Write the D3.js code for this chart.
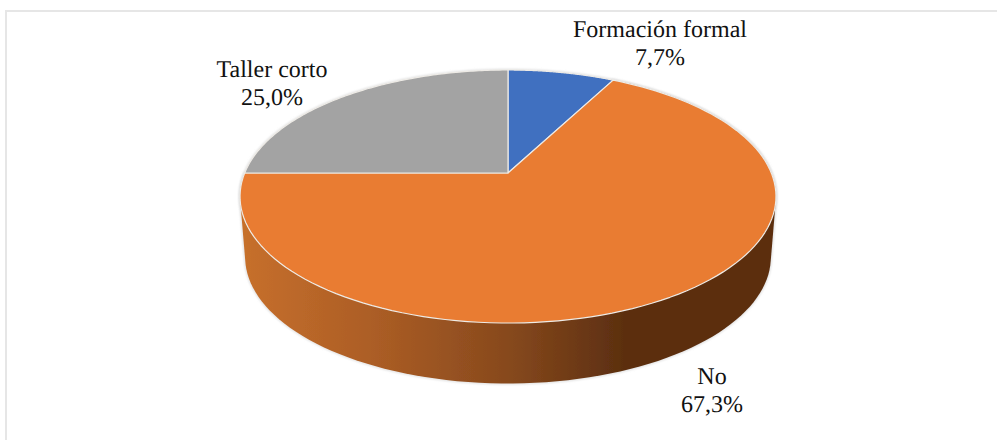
<!DOCTYPE html>
<html lang="es"><head><meta charset="utf-8">
<script src="https://cdn.jsdelivr.net/npm/d3@7"></script>
<style>html,body{margin:0;padding:0;background:#fff;overflow:hidden}svg{display:block}text{text-rendering:geometricPrecision}</style>
</head><body><svg id="c" width="997" height="440"></svg>
<script>
const categories = ["Formación formal", "No", "Taller corto"];
const values = [7.7, 67.3, 25.0];
const labels = ["7,7%", "67,3%", "25,0%"];
const colors = ["#4170c0", "#e97b30", "#a3a3a3"];
const labelAnchors = [[660, 37], [712, 384], [272, 77]];

const svg = d3.select("#c");
const defs = svg.append("defs");
defs.append("filter").attr("id","soft").attr("x","-5%").attr("y","-5%").attr("width","110%").attr("height","110%")
  .append("feGaussianBlur").attr("stdDeviation",0.5);
defs.append("filter").attr("id","halo").attr("x","-5%").attr("y","-5%").attr("width","110%").attr("height","110%")
  .append("feGaussianBlur").attr("stdDeviation",1.2);
const grad = defs.append("linearGradient").attr("id","side").attr("gradientUnits","userSpaceOnUse")
  .attr("x1",245).attr("x2",771).attr("y1",0).attr("y2",0);
[[0,"#c66f2c"],[0.25,"#ab5d25"],[0.5,"#87491d"],[0.72,"#5c2f10"],[1,"#5c2f10"]]
  .forEach(([o,c])=>grad.append("stop").attr("offset",o).attr("stop-color",c));

// Frame
svg.append("path").attr("d","M6,440V11H997").attr("fill","none").attr("stroke","#e6e6e6").attr("stroke-width",2);

// Perspective projection of the pie disc
const cx = 508, s = 263.3, a = -90, b = 173, c = 0.1858;
const proj = (ang) => {
  const x = Math.sin(ang), y = Math.cos(ang), w = 1 + c*y;
  return [cx + s*x/w, (a*y + b)/w];
};
const projLow = (ang) => { const [x,y] = proj(ang); return [cx + (x-cx)*0.981, y + 60.5]; };

const pie = d3.pie().sort(null).value(d=>d);
const arcs = pie(values);
const line = d3.line();
const sample = (d) => d3.range(0, 121).map(i => d.startAngle + (d.endAngle-d.startAngle)*i/120);

const chart = svg.append("g").attr("filter","url(#soft)");

// Outline of the solid: the hull of the slice's upper and lower rims
const orange = arcs[1];
const rim = sample(orange).map(proj), low = sample(orange).map(projLow);
const wall = d3.polygonHull(rim.concat(low));
const whole = d3.range(0,181).map(i=>proj(i/180*2*Math.PI));

// Soft pale halo round the solid
chart.append("path").attr("d", line(whole)+"Z").attr("fill","none").attr("stroke","#dcdcdc").attr("stroke-width",2).attr("filter","url(#halo)");
chart.append("path").attr("d", line(wall)+"Z").attr("fill","none").attr("stroke","#dcdcdc").attr("stroke-width",2).attr("filter","url(#halo)");

// Side wall of the visible slice
chart.append("path").attr("d", line(wall)+"Z").attr("fill","url(#side)");

// Top faces
chart.selectAll("path.face").data(arcs).join("path").attr("class","face")
  .attr("d", d => line([[cx,b]].concat(sample(d).map(proj)))+"Z")
  .attr("fill",(d,i)=>colors[i])
  .attr("stroke","#eeebe6").attr("stroke-width",1.2).attr("stroke-linejoin","round");

// Labels
const t = svg.append("g").attr("font-family","'Liberation Serif','Times New Roman',serif")
  .attr("font-size",24).attr("fill","#111").attr("text-anchor","middle");
categories.forEach((cat,i)=>{
  const [x,y] = labelAnchors[i];
  const g = t.append("text").attr("x",x).attr("y",y);
  g.append("tspan").attr("x",x).text(cat);
  g.append("tspan").attr("x",x).attr("dy",27.5).text(labels[i]);
});
</script></body></html>
